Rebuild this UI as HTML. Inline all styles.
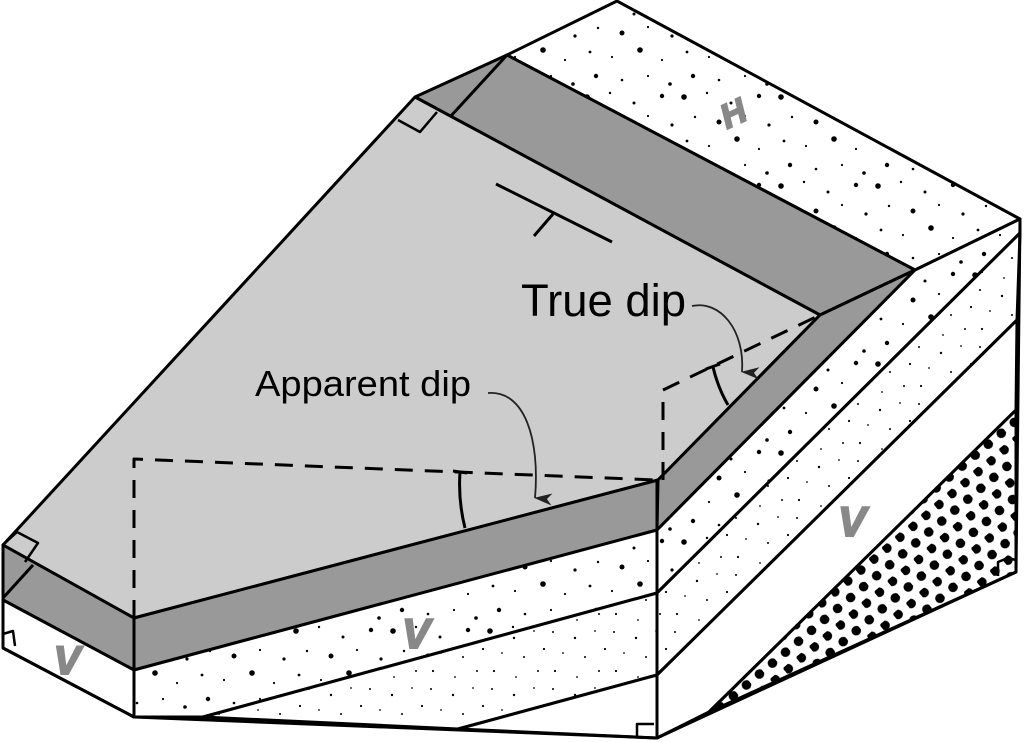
<!DOCTYPE html>
<html><head><meta charset="utf-8"><style>html,body{margin:0;padding:0;background:#fff}svg{display:block}</style></head>
<body>
<svg width="1024" height="742" viewBox="0 0 1024 742" xmlns="http://www.w3.org/2000/svg">
<defs>
<pattern id="sand" width="97" height="89" patternUnits="userSpaceOnUse">
<rect width="97" height="89" fill="#fff"/>
<g fill="#000">
<circle cx="5" cy="8" r="2.8"/><circle cx="28" cy="4" r="1.2"/><circle cx="52" cy="14" r="1.5"/><circle cx="80" cy="7" r="2.2"/>
<circle cx="16" cy="28" r="1.2"/><circle cx="40" cy="33" r="2.5"/><circle cx="66" cy="27" r="1.1"/><circle cx="90" cy="36" r="1.6"/>
<circle cx="8" cy="52" r="1.4"/><circle cx="30" cy="57" r="1.1"/><circle cx="58" cy="50" r="2.8"/><circle cx="80" cy="60" r="1.1"/>
<circle cx="14" cy="76" r="2.2"/><circle cx="40" cy="80" r="1.3"/><circle cx="66" cy="76" r="1.1"/><circle cx="88" cy="84" r="1.8"/>
</g></pattern>
<pattern id="fine" width="61" height="57" patternUnits="userSpaceOnUse">
<rect width="61" height="57" fill="#fff"/>
<g fill="#000">
<circle cx="4" cy="5" r="1"/><circle cx="26" cy="11" r="1.2"/><circle cx="46" cy="4" r="0.9"/><circle cx="14" cy="26" r="0.9"/>
<circle cx="36" cy="30" r="1"/><circle cx="56" cy="22" r="1.1"/><circle cx="6" cy="44" r="1.1"/><circle cx="28" cy="50" r="0.9"/>
<circle cx="50" cy="44" r="1"/>
</g></pattern>
<pattern id="coarse" width="17" height="29" patternUnits="userSpaceOnUse" patternTransform="rotate(-40)">
<rect width="17" height="29" fill="#fff"/>
<g fill="#000"><circle cx="4" cy="4" r="4.8"/><circle cx="12.5" cy="18.5" r="4.8"/></g>
</pattern>
<marker id="ah" markerWidth="12" markerHeight="18" refX="6" refY="17" orient="auto" markerUnits="userSpaceOnUse" viewBox="0 0 12 18">
<path d="M0,0 L6,18 L12,0 L6,5 Z" fill="#222"/>
</marker>
</defs>
<g stroke="#000" stroke-width="3" stroke-linejoin="round">
<polygon points="507,55 617,1 1020,219 915,270" fill="url(#sand)"/>
<polygon points="415,97 507,55 915,270 820,315" fill="#999"/>
<polygon points="415,97 3,545 134,618 658,480 820,315" fill="#ccc"/>
<polygon points="3,545 134,618 134,670 3,600" fill="#999"/>
<polygon points="3,600 134,670 134,717 3,648" fill="#fff"/>
<polygon points="134,618 658,480 657,530 134,670" fill="#999"/>
<polygon points="658,480 820,315 915,270 657,530" fill="#999"/>
<polygon points="134,670 657,530 657,593 203,717 134,717" fill="url(#sand)"/>
<polygon points="203,717 657,593 657,675 458,729" fill="url(#fine)"/>
<polygon points="458,729 657,675 657,738" fill="#fff"/>
<polygon points="657,530 915,270 1020,219 1020,233 657,593" fill="url(#sand)"/>
<polygon points="657,593 1020,233 1017,320 657,675" fill="url(#fine)"/>
<polygon points="657,675 1017,320 1016,410 709,712 657,738" fill="#fff"/>
<polygon points="709,712 1016,410 1016,572" fill="url(#coarse)"/>
<polyline points="134,717 657,738 1016,572 1020,219" fill="none"/>
<line x1="657" y1="480" x2="657" y2="738"/>
<line x1="134" y1="618" x2="134" y2="717"/>
<line x1="3" y1="545" x2="3" y2="648"/>
<line x1="3" y1="648" x2="134" y2="717"/>
<line x1="507" y1="55" x2="450" y2="117"/>
<line x1="3" y1="598" x2="33" y2="565"/>
<polyline points="398,120 420,132 437,112" fill="none" stroke-width="2.5"/>
<polyline points="5,543 17,532 38,543 25,562" fill="none" stroke-width="2.5"/>
<polyline points="3,634 13,631 15,646" fill="none" stroke-width="2.5"/>
<polyline points="637,738 637,724 654,724" fill="none" stroke-width="2.5"/>
<polyline points="998,576 998,562 1008,558 1016,560" fill="none" stroke-width="2.5"/>
<line x1="496" y1="184" x2="612" y2="242"/>
<line x1="553" y1="214" x2="534" y2="236"/>
<g stroke-dasharray="18,12" fill="none">
<polyline points="134,618 134,459 656,480"/>
<polyline points="663,480 663,390 820,315"/>
</g>
<path d="M453,471 L467,473 M460,472 Q458,500 465,528" fill="none"/>
<path d="M706,369 L720,364 M713,367 Q718,388 728,405" fill="none"/>
</g>
<path d="M488,393 C525,390 540,440 535,498" fill="none" stroke="#222" stroke-width="1.8" marker-end="url(#ah)"/>
<path d="M692,306 C720,300 745,330 742,372" fill="none" stroke="#222" stroke-width="1.8" marker-end="url(#ah)"/>
<text x="521" y="316" font-family="Liberation Sans, sans-serif" font-size="45" textLength="165" lengthAdjust="spacingAndGlyphs" fill="#000">True dip</text>
<text x="255" y="396" font-family="Liberation Sans, sans-serif" font-size="36" textLength="216" lengthAdjust="spacingAndGlyphs" fill="#000">Apparent dip</text>
<g font-family="Liberation Sans, sans-serif" font-weight="bold" fill="#888" stroke="#888" stroke-width="2" font-style="italic">
<text x="733" y="125" font-size="34" text-anchor="middle" transform="rotate(-25 733 113)">H</text>
<text x="852" y="536" font-size="42" text-anchor="middle">V</text>
<text x="416" y="648" font-size="42" text-anchor="middle">V</text>
<text x="67" y="674" font-size="40" text-anchor="middle">V</text>
</g>
</svg>
</body></html>
